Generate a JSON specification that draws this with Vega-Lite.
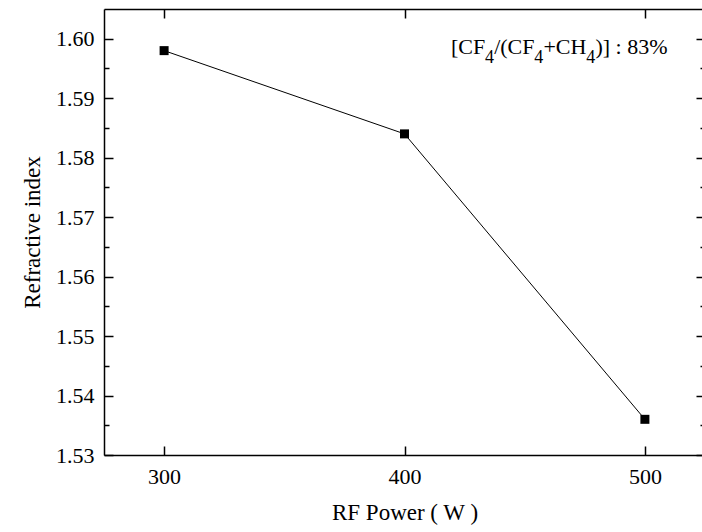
{
  "$schema": "https://vega.github.io/schema/vega-lite/v6.json",
  "autosize": "none",
  "width": 601,
  "height": 446,
  "padding": {"left": 104, "top": 9, "right": 0, "bottom": 77},
  "background": "white",
  "config": {
    "font": "Liberation Serif",
    "view": {"stroke": null},
    "axis": {
      "labelFont": "Liberation Serif",
      "titleFont": "Liberation Serif",
      "labelColor": "black",
      "titleColor": "black",
      "domainColor": "black",
      "tickColor": "black",
      "domainWidth": 1.5,
      "tickWidth": 1.5,
      "grid": false,
      "labelFontSize": 22,
      "titleFontSize": 23,
      "titleFontWeight": "normal"
    }
  },
  "datasets": {
    "pts": [
      {"power": 300, "ri": 1.598},
      {"power": 400, "ri": 1.584},
      {"power": 500, "ri": 1.536}
    ],
    "ann": [
      {"x": 419.3, "y": 1.5974, "t": "[CF", "s": 22},
      {"x": 433.5, "y": 1.5960, "t": "4", "s": 18},
      {"x": 437.3, "y": 1.5974, "t": "/(CF", "s": 22},
      {"x": 454.0, "y": 1.5960, "t": "4", "s": 18},
      {"x": 457.8, "y": 1.5974, "t": "+CH", "s": 22},
      {"x": 475.6, "y": 1.5960, "t": "4", "s": 18},
      {"x": 479.4, "y": 1.5974, "t": ")] : 83%", "s": 22}
    ]
  },
  "resolve": {"axis": {"x": "independent", "y": "independent"}},
  "layer": [
    {
      "data": {"name": "pts"},
      "mark": {"type": "line", "color": "black", "strokeWidth": 1},
      "encoding": {
        "x": {
          "field": "power", "type": "quantitative",
          "scale": {"domain": [275, 525], "nice": false, "zero": false},
          "axis": {
            "orient": "bottom",
            "values": [300, 400, 500],
            "tickSize": -9,
            "labelPadding": 20,
            "labelFont": "Liberation Serif",
            "title": "RF Power ( W )",
            "titlePadding": 14
          }
        },
        "y": {
          "field": "ri", "type": "quantitative",
          "scale": {"domain": [1.53, 1.605], "nice": false, "zero": false},
          "axis": {
            "orient": "left",
            "values": [1.53, 1.535, 1.54, 1.545, 1.55, 1.555, 1.56, 1.565, 1.57, 1.575, 1.58, 1.585, 1.59, 1.595, 1.6],
            "format": ".2f",
            "labelFont": "Liberation Serif",
            "labelExpr": "round(datum.value*1000) % 10 == 0 ? datum.label : ''",
            "tickSize": {"condition": {"test": "round(datum.value*1000) % 10 == 0", "value": -9}, "value": -5},
            "labelPadding": 19,
            "title": "Refractive index",
            "titlePadding": 11
          }
        }
      }
    },
    {
      "data": {"name": "pts"},
      "mark": {"type": "square", "color": "black", "opacity": 1, "filled": true, "size": 81},
      "encoding": {
        "x": {
          "field": "power", "type": "quantitative",
          "axis": {"orient": "top", "values": [300, 400, 500], "tickSize": -9, "labels": false, "title": null}
        },
        "y": {
          "field": "ri", "type": "quantitative",
          "axis": {
            "orient": "right",
            "values": [1.53, 1.535, 1.54, 1.545, 1.55, 1.555, 1.56, 1.565, 1.57, 1.575, 1.58, 1.585, 1.59, 1.595, 1.6],
            "tickSize": {"condition": {"test": "round(datum.value*1000) % 10 == 0", "value": -9}, "value": -5},
            "labels": false,
            "title": null
          }
        }
      }
    },
    {
      "data": {"name": "ann"},
      "mark": {"type": "text", "align": "left", "baseline": "alphabetic", "font": "Liberation Serif", "color": "black"},
      "encoding": {
        "x": {"field": "x", "type": "quantitative", "axis": null},
        "y": {"field": "y", "type": "quantitative", "axis": null},
        "text": {"field": "t"},
        "size": {"field": "s", "type": "quantitative", "scale": null, "legend": null}
      }
    }
  ]
}
